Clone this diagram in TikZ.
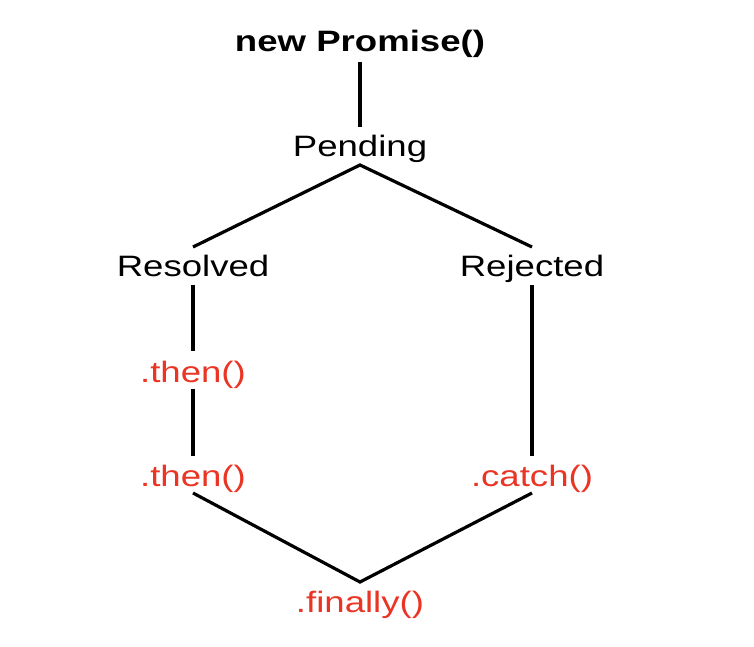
\documentclass[tikz,border=0pt]{standalone}
\usepackage{fontspec}
\setmainfont{Liberation Sans}[FakeStretch=1.24]
\definecolor{callred}{RGB}{234,52,36}
\begin{document}
\begin{tikzpicture}[x=1pt,y=1pt,
  lbl/.style={anchor=base,inner sep=0pt,font=\fontsize{29.5}{35}\selectfont},
  state/.style={lbl,text=black},
  call/.style={lbl,text=callred},
  conn/.style={line width=3.2pt,black}]
\useasboundingbox (0,0) rectangle (754,646);
\node[state,font=\fontsize{29.5}{35}\selectfont\bfseries] (np) at (360,594) {new Promise()};
\node[state] (pend) at (360,489) {Pending};
\node[state] (res) at (193,369) {Resolved};
\node[state] (rej) at (532,369) {Rejected};
\node[call] (then1) at (193,264) {.then()};
\node[call] (then2) at (193,160) {.then()};
\node[call] (catch) at (532,160) {.catch()};
\node[call] (fin) at (360,34) {.finally()};
\draw[conn] ([yshift=-10pt]np.base) -- ([yshift=30pt]pend.base);
\draw[conn] ([yshift=30pt]res.base) -- ([yshift=-8pt]pend.base) -- ([yshift=30pt]rej.base);
\draw[conn] ([yshift=-8pt]res.base) -- ([yshift=31pt]then1.base);
\draw[conn] ([yshift=-7pt]then1.base) -- ([yshift=30pt]then2.base);
\draw[conn] ([yshift=-8pt]rej.base) -- ([yshift=30pt]catch.base);
\draw[conn] ([yshift=-7pt]then2.base) -- ([yshift=30pt]fin.base) -- ([yshift=-7pt]catch.base);
\end{tikzpicture}
\end{document}
